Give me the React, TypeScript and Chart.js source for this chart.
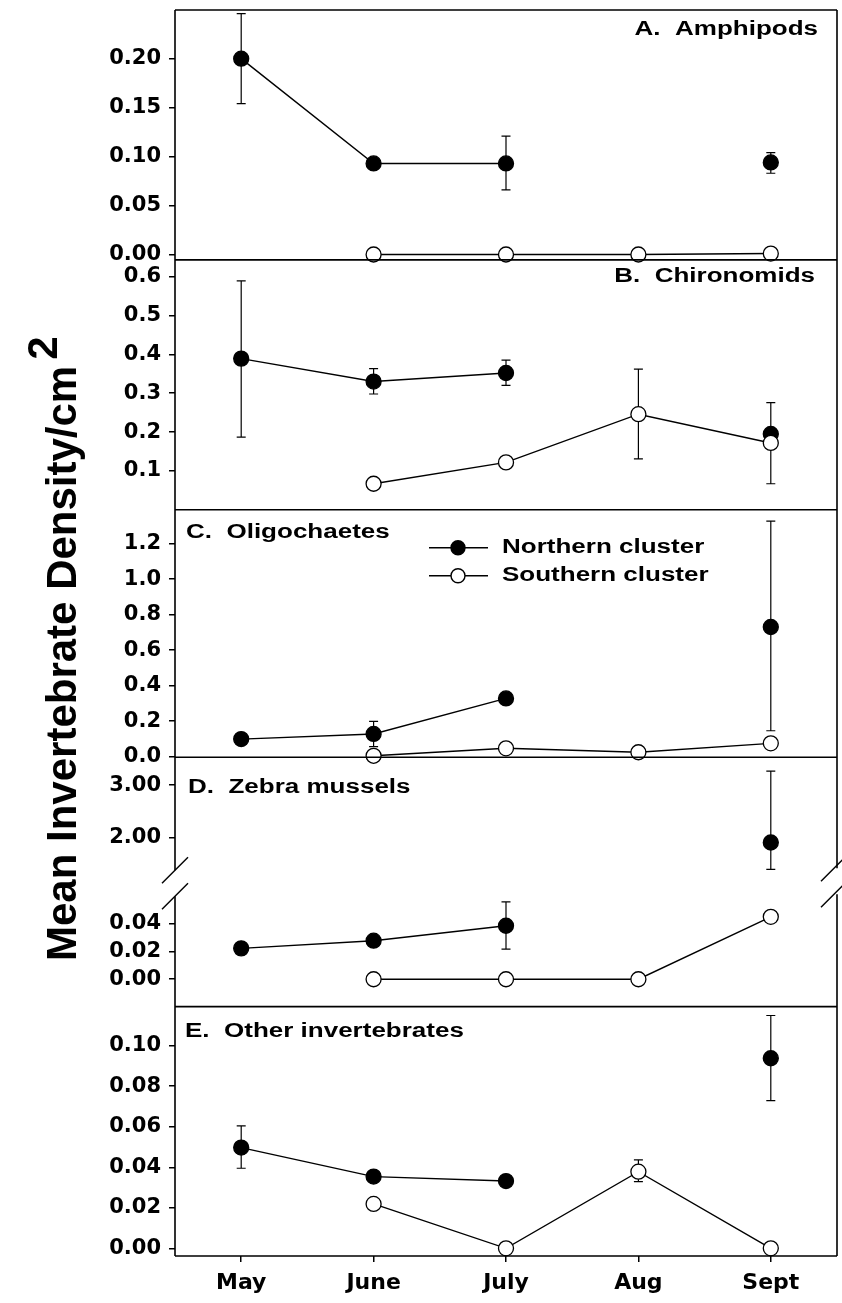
import { useEffect, useRef } from 'react';
import { Chart, registerables } from 'chart.js';

Chart.register(...registerables);

// ---------- data ----------
const months = ['May', 'June', 'July', 'Aug', 'Sept'];

// A. Amphipods
const ampNorth = [0.2, 0.093, 0.093, null, 0.094];
const ampNorthLow = [0.154, null, 0.066, null, 0.083];
const ampNorthHigh = [0.246, null, 0.121, null, 0.104];
const ampSouth = [null, 0, 0, 0, 0.001];
const ampTicks = [0, 0.05, 0.1, 0.15, 0.2];

// B. Chironomids
const chiNorth = [0.389, 0.33, 0.352, null, 0.195];
const chiNorthLow = [0.187, 0.298, 0.32, null, 0.067];
const chiNorthHigh = [0.589, 0.363, 0.385, null, 0.276];
const chiSouth = [null, 0.067, 0.122, 0.246, 0.172];
const chiSouthLow = [null, null, null, 0.131, null];
const chiSouthHigh = [null, null, null, 0.362, null];
const chiTicks = [0.1, 0.2, 0.3, 0.4, 0.5, 0.6];

// C. Oligochaetes
const oliNorth = [0.099, 0.128, 0.328, null, 0.73];
const oliNorthLow = [null, 0.057, null, null, 0.146];
const oliNorthHigh = [null, 0.199, null, null, 1.326];
const oliSouth = [null, 0.005, 0.047, 0.025, 0.075];
const oliTicks = [0, 0.2, 0.4, 0.6, 0.8, 1.0, 1.2];

// D. Zebra mussels (broken axis)
const zebNorth = [0.0221, 0.0276, 0.0383, null, 1.904];
const zebNorthLow = [null, 0.024, 0.0216, null, 1.39];
const zebNorthHigh = [null, 0.031, 0.0554, null, 3.268];
const zebSouth = [null, 0, 0, 0, 0.0447];
const zebTicksUpper = [2, 3];
const zebTicksLower = [0, 0.02, 0.04];

// E. Other invertebrates
const othNorth = [0.0497, 0.0354, 0.0332, null, 0.0938];
const othNorthLow = [0.0395, null, null, null, 0.0729];
const othNorthHigh = [0.0604, null, null, null, 0.1149];
const othSouth = [null, 0.0219, 0, 0.0378, 0];
const othSouthLow = [null, null, null, 0.0329, null];
const othSouthHigh = [null, null, null, 0.0436, null];
const othTicks = [0, 0.02, 0.04, 0.06, 0.08, 0.1];

const seriesNames = ['Northern cluster', 'Southern cluster'];
const yTitle = 'Mean Invertebrate Density/cm';
const yTitleSup = '2';

// ---------- styling / layout ----------
const FONT = '"DejaVu Sans", "Liberation Sans", sans-serif';
const TEXT_FONT = '"Liberation Sans", Arial, sans-serif';
const AXIS_W = 175;
const STRETCH = 1.3;

type Seg = {
  id: string;
  min: number;
  max: number;
  weight: number;
  ticks: number[];
  dec: number;
  gap?: boolean;
};

const segs: Seg[] = [
  { id: 'yA', min: -0.0055, max: 0.2497, weight: 250, ticks: ampTicks, dec: 2 },
  { id: 'yB', min: 0, max: 0.643, weight: 250, ticks: chiTicks, dec: 1 },
  { id: 'yC', min: -0.003, max: 1.39, weight: 247.5, ticks: oliTicks, dec: 1 },
  { id: 'yDu', min: 1.375, max: 3.535, weight: 113, ticks: zebTicksUpper, dec: 2 },
  { id: 'yDg', min: 0, max: 1, weight: 26, ticks: [], dec: 0, gap: true },
  { id: 'yDl', min: -0.0196, max: 0.0595, weight: 110.5, ticks: zebTicksLower, dec: 2 },
  { id: 'yE', min: -0.0038, max: 0.1193, weight: 249.5, ticks: othTicks, dec: 2 },
];

type Series = {
  seg: string[];
  values: (number | null)[];
  low: (number | null)[];
  high: (number | null)[];
  north: boolean;
};

const NONE: (number | null)[] = [null, null, null, null, null];

const series: Series[] = [
  { seg: ['yA'], values: ampNorth, low: ampNorthLow, high: ampNorthHigh, north: true },
  { seg: ['yA'], values: ampSouth, low: NONE, high: NONE, north: false },
  { seg: ['yB'], values: chiNorth, low: chiNorthLow, high: chiNorthHigh, north: true },
  { seg: ['yB'], values: chiSouth, low: chiSouthLow, high: chiSouthHigh, north: false },
  { seg: ['yC'], values: oliNorth, low: oliNorthLow, high: oliNorthHigh, north: true },
  { seg: ['yC'], values: oliSouth, low: NONE, high: NONE, north: false },
  { seg: ['yDu', 'yDl'], values: zebNorth, low: zebNorthLow, high: zebNorthHigh, north: true },
  { seg: ['yDl'], values: zebSouth, low: NONE, high: NONE, north: false },
  { seg: ['yE'], values: othNorth, low: othNorthLow, high: othNorthHigh, north: true },
  { seg: ['yE'], values: othSouth, low: othSouthLow, high: othSouthHigh, north: false },
];

const panelLabels = [
  { seg: 'yA', text: 'A.  Amphipods', align: 'right', x: 818, dy: 19 },
  { seg: 'yB', text: 'B.  Chironomids', align: 'right', x: 815, dy: 17 },
  { seg: 'yC', text: 'C.  Oligochaetes', align: 'left', x: 186, dy: 23 },
  { seg: 'yDu', text: 'D.  Zebra mussels', align: 'left', x: 188, dy: 30 },
  { seg: 'yE', text: 'E.  Other invertebrates', align: 'left', x: 185, dy: 25 },
];

function buildDatasets() {
  const out: any[] = [];
  series.forEach((s) => {
    s.seg.forEach((segId) => {
      const seg = segs.find((g) => g.id === segId)!;
      const inSeg = (v: number | null) => v != null && v >= seg.min && v <= seg.max;
      const data = s.values.map((v) => (inSeg(v) ? v : null));
      out.push({
        type: 'line',
        label: s.north ? seriesNames[0] : seriesNames[1],
        data,
        yAxisID: segId,
        errLow: s.low.map((v, i) => (inSeg(s.values[i]) ? v : null)),
        errHigh: s.high.map((v, i) => (inSeg(s.values[i]) ? v : null)),
        borderColor: '#000',
        borderWidth: 1.4,
        pointRadius: 7.5,
        pointHoverRadius: 7.5,
        pointBackgroundColor: s.north ? '#000' : '#fff',
        pointBorderColor: '#000',
        pointBorderWidth: 1.3,
        spanGaps: false,
        fill: false,
        tension: 0,
        order: s.north ? 1 : 0,
        clip: false,
      });
    });
  });
  return out;
}

function zeroPad(s: any) {
  s.paddingTop = 0;
  s.paddingBottom = 0;
  s.paddingLeft = 0;
  s.paddingRight = 0;
}

function buildScales() {
  const scales: any = {
    x: {
      type: 'category',
      labels: months,
      offset: true,
      position: 'bottom',
      border: { display: false },
      grid: {
        offset: false,
        drawOnChartArea: false,
        drawTicks: true,
        tickLength: 6,
        color: '#000',
        lineWidth: 1.5,
      },
      ticks: {
        color: '#000',
        font: { family: FONT, size: 22, weight: 'bold' },
        padding: 8,
        maxRotation: 0,
        autoSkip: false,
      },
      afterFit: (s: any) => {
        s.height = 47;
        zeroPad(s);
      },
    },
  };
  segs.forEach((g, i) => {
    scales[g.id] = {
      type: 'linear',
      position: 'left',
      stack: 'panels',
      stackWeight: g.weight,
      weight: segs.length - i,
      min: g.min,
      max: g.max,
      offset: false,
      border: { display: false },
      grid: {
        display: !g.gap,
        drawOnChartArea: false,
        drawTicks: true,
        tickLength: 6,
        color: '#000',
        lineWidth: 1.5,
      },
      ticks: {
        display: !g.gap,
        autoSkip: false,
        color: '#000',
        font: { family: FONT, size: 21, weight: 'bold' },
        padding: 8,
        callback: (v: any) => Number(v).toFixed(g.dec),
      },
      afterBuildTicks: (s: any) => {
        if (!g.gap) s.ticks = g.ticks.map((v) => ({ value: v }));
      },
      afterFit: (s: any) => {
        s.width = AXIS_W;
        zeroPad(s);
      },
    };
  });
  return scales;
}

function stretchedText(ctx: CanvasRenderingContext2D, text: string, x: number, y: number, align: CanvasTextAlign) {
  ctx.save();
  ctx.translate(x, y);
  ctx.scale(STRETCH, 1);
  ctx.textAlign = align;
  ctx.fillText(text, 0, 0);
  ctx.restore();
}

const panelPlugin = {
  id: 'panelPlugin',
  beforeDatasetsDraw(chart: any) {
    const ctx = chart.ctx;
    chart.data.datasets.forEach((ds: any, di: number) => {
      const meta = chart.getDatasetMeta(di);
      const ys = chart.scales[ds.yAxisID];
      ctx.save();
      ctx.beginPath();
      ctx.rect(0, ys.top, chart.width, ys.bottom - ys.top);
      ctx.clip();
      ctx.strokeStyle = '#000';
      ctx.lineWidth = 1.2;
      (ds.errLow || []).forEach((lo: number | null, j: number) => {
        const hi = ds.errHigh[j];
        if (lo == null || hi == null) return;
        const x = meta.data[j].x;
        const y1 = ys.getPixelForValue(lo);
        const y2 = ys.getPixelForValue(hi);
        ctx.beginPath();
        ctx.moveTo(x, y1);
        ctx.lineTo(x, y2);
        ctx.moveTo(x - 4.5, y1);
        ctx.lineTo(x + 4.5, y1);
        ctx.moveTo(x - 4.5, y2);
        ctx.lineTo(x + 4.5, y2);
        ctx.stroke();
      });
      ctx.restore();
    });
  },
  afterDraw(chart: any) {
    const ctx = chart.ctx;
    const ca = chart.chartArea;
    const sc = chart.scales;
    const gap = sc.yDg;
    ctx.save();
    ctx.strokeStyle = '#000';
    ctx.lineWidth = 1.6;
    // frame
    ctx.beginPath();
    ctx.moveTo(ca.left, ca.top);
    ctx.lineTo(ca.left, gap.top);
    ctx.moveTo(ca.left, gap.bottom);
    ctx.lineTo(ca.left, ca.bottom);
    ctx.moveTo(ca.right, ca.top);
    ctx.lineTo(ca.right, gap.top - 2);
    ctx.moveTo(ca.right, gap.bottom - 2);
    ctx.lineTo(ca.right, ca.bottom);
    ctx.moveTo(ca.left, ca.top);
    ctx.lineTo(ca.right, ca.top);
    ['yA', 'yB', 'yC', 'yDl', 'yE'].forEach((id) => {
      const b = sc[id].bottom;
      ctx.moveTo(ca.left, b);
      ctx.lineTo(ca.right, b);
    });
    ctx.stroke();

    // break marks
    ctx.lineWidth = 1.4;
    const slash = (cx: number, cy: number) => {
      ctx.beginPath();
      ctx.moveTo(cx - 13, cy + 13);
      ctx.lineTo(cx + 13, cy - 13);
      ctx.stroke();
    };
    slash(ca.left, gap.top);
    slash(ca.left, gap.bottom);
    slash(ca.right - 3, gap.top - 2);
    slash(ca.right - 3, gap.bottom - 2);

    // panel labels
    ctx.fillStyle = '#000';
    ctx.font = `bold 20px ${TEXT_FONT}`;
    ctx.textBaseline = 'middle';
    panelLabels.forEach((p) => {
      stretchedText(ctx, p.text, p.x, sc[p.seg].top + p.dy, p.align as CanvasTextAlign);
    });

    // legend (panel C)
    const cTop = sc.yC.top;
    const rows = [
      { y: cTop + 38, fill: '#000', text: seriesNames[0] },
      { y: cTop + 66, fill: '#fff', text: seriesNames[1] },
    ];
    rows.forEach((r) => {
      ctx.lineWidth = 1.4;
      ctx.beginPath();
      ctx.moveTo(429, r.y);
      ctx.lineTo(488, r.y);
      ctx.stroke();
      ctx.beginPath();
      ctx.arc(458, r.y, 7, 0, Math.PI * 2);
      ctx.fillStyle = r.fill;
      ctx.fill();
      ctx.stroke();
      ctx.fillStyle = '#000';
      stretchedText(ctx, r.text, 502, r.y, 'left');
    });

    // y title
    ctx.translate(76, 961);
    ctx.rotate(-Math.PI / 2);
    ctx.font = `bold 42px ${TEXT_FONT}`;
    ctx.textAlign = 'left';
    ctx.textBaseline = 'alphabetic';
    ctx.fillText(yTitle, 0, 0);
    const w = ctx.measureText(yTitle).width;
    ctx.fillText(yTitleSup, w + 6, -19);
    ctx.restore();
  },
};

export default function App() {
  const ref = useRef<HTMLCanvasElement>(null);
  useEffect(() => {
    if (!ref.current) return;
    const chart = new Chart(ref.current, {
      type: 'line',
      data: { labels: months, datasets: buildDatasets() },
      options: {
        responsive: false,
        devicePixelRatio: 1,
        animation: false,
        events: [],
        layout: { padding: { top: 10, right: 5, left: 0, bottom: 0 }, autoPadding: false },
        plugins: { legend: { display: false }, tooltip: { enabled: false }, title: { display: false } },
        scales: buildScales(),
      } as any,
      plugins: [panelPlugin],
    });
    return () => chart.destroy();
  }, []);
  return (
    <div style={{ position: 'absolute', left: 0, top: 0, width: 842, height: 1303, background: '#fff' }}>
      <canvas ref={ref} width={842} height={1303} style={{ display: 'block', width: 842, height: 1303 }} />
    </div>
  );
}
